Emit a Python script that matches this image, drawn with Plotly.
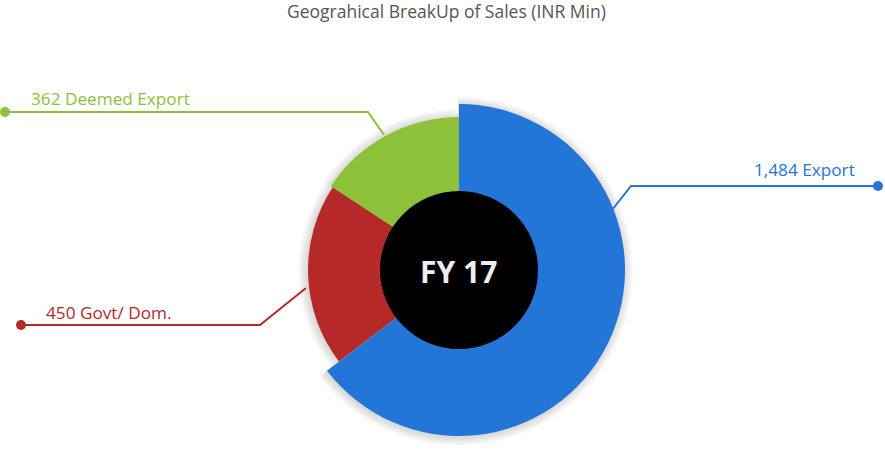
import plotly.graph_objects as go

# ---- data ----
categories = ["Export", "Govt/ Dom.", "Deemed Export"]
values = [1484, 450, 362]
label_texts = ["1,484 Export", "450 Govt/ Dom.", "362 Deemed Export"]
title_text = "Geograhical BreakUp of Sales (INR Min)"
center_text = "FY 17"

# ---- style ----
colors = ["#2375D8", "#B52929", "#8DC13A"]
W, H = 885, 460
CX, CY = 459, 270
radii = [166, 151, 153]          # variable outer radius per slice (px)
inner_r = 79                      # black centre disc radius (px)
FONT = "Open Sans"

def px(x):
    return x / W

def py(y):
    return 1 - y / H

def dom(r):
    return dict(x=[px(CX - r), px(CX + r)], y=[py(CY + r), py(CY - r)])

fig = go.Figure()

# soft shadow layers (slightly offset down-left)
for k in range(1, 10):
    for i, c in enumerate(colors):
        cols = ["rgba(0,0,0,0)"] * len(values)
        cols[i] = "rgba(40,40,60,0.018)"
        r = radii[i] + k
        d = dict(x=[px(CX - 1 - r), px(CX - 1 + r)], y=[py(CY + 1 + r), py(CY + 1 - r)])
        fig.add_trace(go.Pie(
            values=values, labels=categories, sort=False, direction="clockwise",
            rotation=0, domain=d, marker=dict(colors=cols, line=dict(width=0)),
            textinfo="none", hoverinfo="skip", showlegend=False))

# slices (one trace per slice so each has its own radius)
for i, c in enumerate(colors):
    cols = ["rgba(0,0,0,0)"] * len(values)
    cols[i] = c
    fig.add_trace(go.Pie(
        values=values, labels=categories, sort=False, direction="clockwise",
        rotation=0, domain=dom(radii[i]), marker=dict(colors=cols, line=dict(width=0)),
        textinfo="none", hoverinfo="label+value", showlegend=False))

shapes = []
annotations = []

# centre disc
shapes.append(dict(type="circle", xref="paper", yref="paper",
                   x0=px(CX - inner_r), x1=px(CX + inner_r),
                   y0=py(CY + inner_r), y1=py(CY - inner_r),
                   fillcolor="#000000", line=dict(width=0)))
annotations.append(dict(x=px(CX - 1), y=py(CY + 1), xref="paper", yref="paper",
                        text="<b>" + center_text + "</b>", showarrow=False,
                        font=dict(family=FONT, size=30, color="#eeeeee"),
                        xanchor="center", yanchor="middle"))

# leader lines (pixel layout): start point, elbow, end point
connectors = [
    [(612, 210), (631, 186), (878, 186)],
    [(306, 288), (260, 325), (21, 325)],
    [(384, 135), (368, 112), (5, 112)],
]
label_pos = [(857, 169, "right"), (44, 312, "left"), (29, 98, "left")]

for i, pts in enumerate(connectors):
    path = "M " + " L ".join(f"{px(x)},{py(y)}" for x, y in pts)
    shapes.append(dict(type="path", xref="paper", yref="paper", path=path,
                       line=dict(color=colors[i], width=2)))
    ex, ey = pts[-1]
    rr = 5
    shapes.append(dict(type="circle", xref="paper", yref="paper",
                       x0=px(ex - rr), x1=px(ex + rr), y0=py(ey + rr), y1=py(ey - rr),
                       fillcolor=colors[i], line=dict(width=0)))
    lx, ly, anc = label_pos[i]
    annotations.append(dict(x=px(lx), y=py(ly), xref="paper", yref="paper",
                            text=label_texts[i], showarrow=False,
                            font=dict(family=FONT, size=17.2, color=colors[i]),
                            xanchor=anc, yanchor="middle"))

annotations.append(dict(x=px(446), y=py(11), xref="paper", yref="paper",
                        text=title_text, showarrow=False,
                        font=dict(family=FONT, size=17.5, color="#555555"),
                        xanchor="center", yanchor="middle"))

fig.update_layout(
    width=W, height=H, margin=dict(l=0, r=0, t=0, b=0),
    paper_bgcolor="#ffffff", plot_bgcolor="#ffffff",
    shapes=shapes, annotations=annotations, showlegend=False,
)

fig.write_html("out.html", config={"displayModeBar": False},
               post_script="document.body.style.margin='0';document.body.style.overflow='hidden';")
